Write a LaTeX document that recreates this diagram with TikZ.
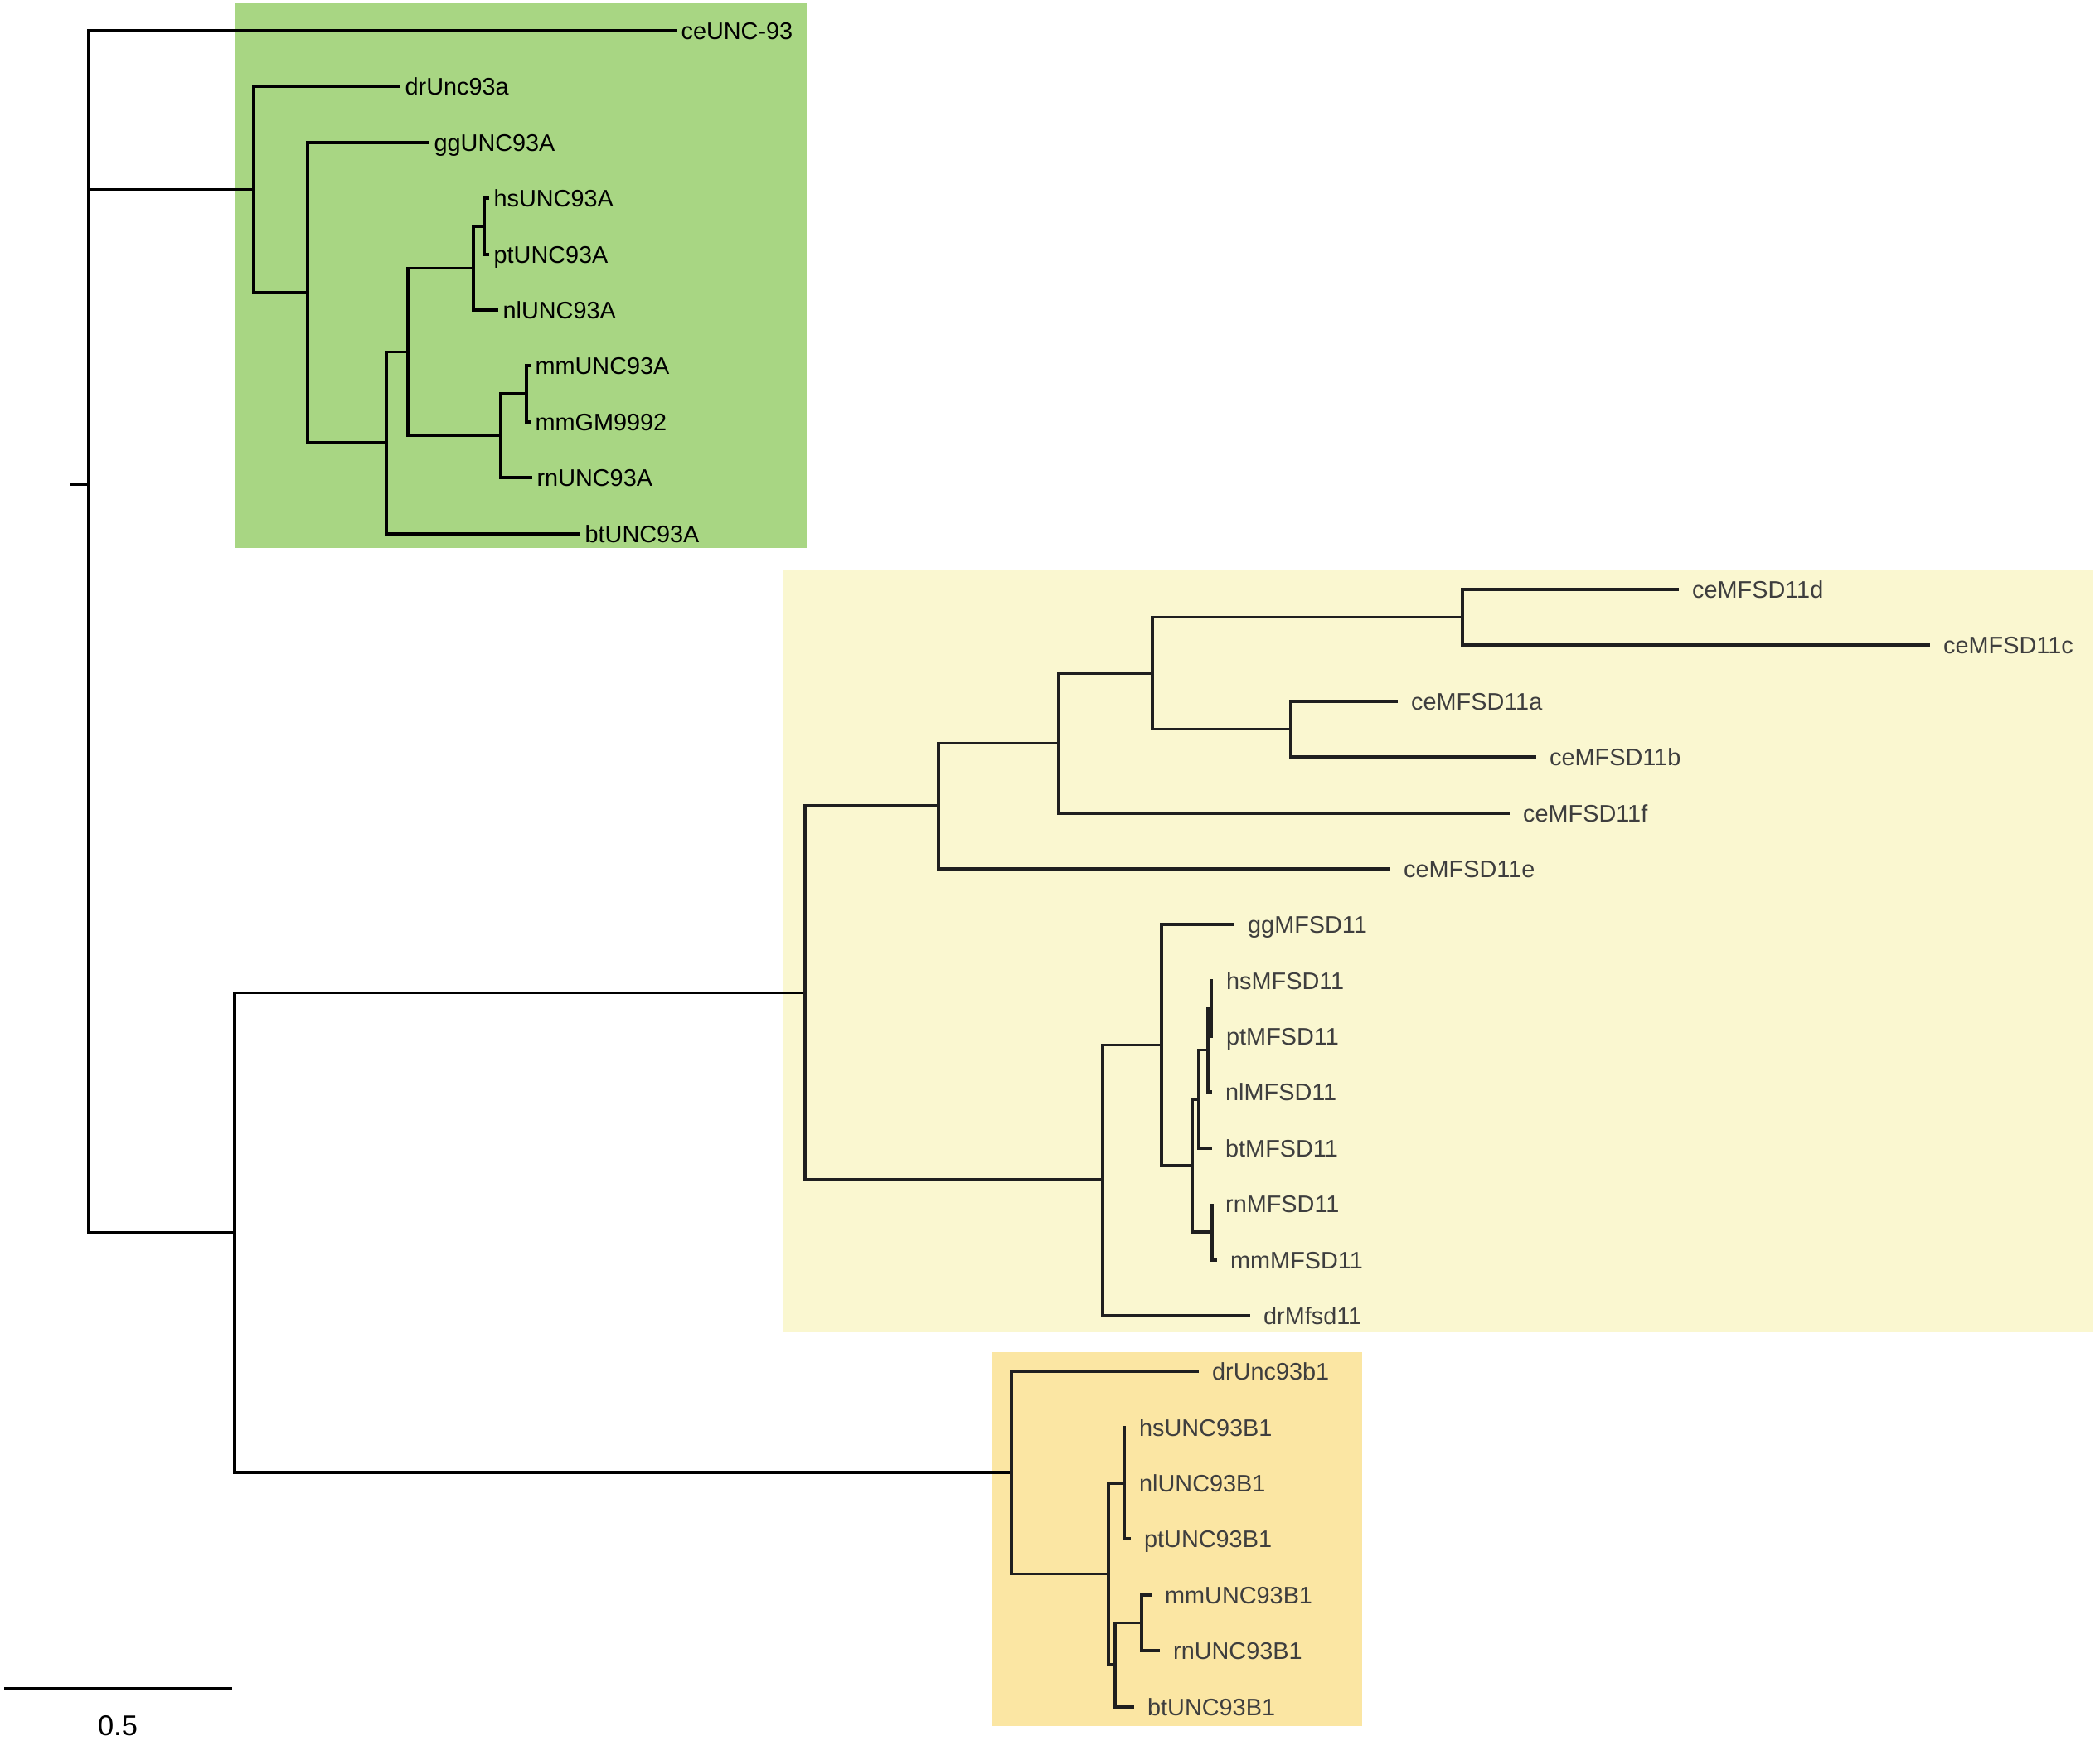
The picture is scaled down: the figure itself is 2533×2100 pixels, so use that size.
\documentclass[tikz,border=0pt]{standalone}
\usepackage{fontspec}
\setmainfont{Liberation Sans}
\definecolor{unagreen}{RGB}{168,214,131}
\definecolor{mfsdyellow}{RGB}{250,247,208}
\definecolor{unborange}{RGB}{251,230,163}
\definecolor{labelgray}{RGB}{62,62,62}

\begin{document}
\begin{tikzpicture}[x=0.01cm, y=-0.01cm,
    branch/.style={line width=1pt, black},
    branchb/.style={line width=1pt, black!88},
    leafa/.style={anchor=west, inner xsep=1.4pt, inner ysep=0pt, text height=5.9pt, text depth=0pt, font=\fontsize{8.2}{10}\selectfont},
    leafb/.style={leafa, inner xsep=4.4pt, text=labelgray}]
\useasboundingbox (0,0) rectangle (2533,2100);

% Clade boxes
\fill[unagreen] (284,4) rectangle (973,661);
\fill[mfsdyellow] (945,687) rectangle (2525,1607);
\fill[unborange] (1197,1631) rectangle (1643,2082);

% Inner nodes
\coordinate (stub) at (84,584);
\coordinate (root) at (107,584);
\coordinate (gA) at (306,228.5);
\coordinate (gB) at (371,353);
\coordinate (gC) at (466,534);
\coordinate (gD) at (492,424.5);
\coordinate (gE) at (571,323.5);
\coordinate (gG) at (584,273);
\coordinate (gF) at (604,525.5);
\coordinate (gH) at (635,475);
\coordinate (bN) at (283,1487);
\coordinate (yA) at (971,1197.5);
\coordinate (yB) at (1132,972);
\coordinate (yC) at (1277,896.5);
\coordinate (yD) at (1390,812);
\coordinate (yE) at (1764,744.5);
\coordinate (yF) at (1557,879.5);
\coordinate (mB) at (1330,1423);
\coordinate (mC) at (1401,1260.5);
\coordinate (mD) at (1438,1406);
\coordinate (mE) at (1446,1326);
\coordinate (mF) at (1457,1266.5);
\coordinate (mG) at (1461,1216.5);
\coordinate (mH) at (1462,1486);
\coordinate (oA) at (1220,1776);
\coordinate (oB) at (1337,1898.5);
\coordinate (oC) at (1356,1789);
\coordinate (oD) at (1345,2008);
\coordinate (oE) at (1377,1957.5);

% UNC93A leaves
\node[leafa] (ceUNC) at (816,37) {ceUNC-93};
\node[leafa] (drUNCa) at (483,104) {drUnc93a};
\node[leafa] (ggUNCA) at (518,172) {ggUNC93A};
\node[leafa] (hsUNCA) at (590,239) {hsUNC93A};
\node[leafa] (ptUNCA) at (590,307) {ptUNC93A};
\node[leafa] (nlUNCA) at (601,374) {nlUNC93A};
\node[leafa] (mmUNCA) at (640,441) {mmUNC93A};
\node[leafa] (mmGM) at (640,509) {mmGM9992};
\node[leafa] (rnUNCA) at (642,576) {rnUNC93A};
\node[leafa] (btUNCA) at (700,644) {btUNC93A};

% MFSD11 leaves
\node[leafb] (ceMd) at (2025,711) {ceMFSD11d};
\node[leafb] (ceMc) at (2328,778) {ceMFSD11c};
\node[leafb] (ceMa) at (1686,846) {ceMFSD11a};
\node[leafb] (ceMb) at (1853,913) {ceMFSD11b};
\node[leafb] (ceMf) at (1821,981) {ceMFSD11f};
\node[leafb] (ceMe) at (1677,1048) {ceMFSD11e};
\node[leafb] (ggM) at (1489,1115) {ggMFSD11};
\node[leafb] (hsM) at (1463,1183) {hsMFSD11};
\node[leafb] (ptM) at (1463,1250) {ptMFSD11};
\node[leafb] (nlM) at (1462,1317) {nlMFSD11};
\node[leafb] (btM) at (1462,1385) {btMFSD11};
\node[leafb] (rnM) at (1462,1452) {rnMFSD11};
\node[leafb] (mmM) at (1468,1520) {mmMFSD11};
\node[leafb] (drM) at (1508,1587) {drMfsd11};

% UNC93B1 leaves
\node[leafb] (drUNCb) at (1446,1654) {drUnc93b1};
\node[leafb] (hsB) at (1358,1722) {hsUNC93B1};
\node[leafb] (nlB) at (1358,1789) {nlUNC93B1};
\node[leafb] (ptB) at (1364,1856) {ptUNC93B1};
\node[leafb] (mmB) at (1389,1924) {mmUNC93B1};
\node[leafb] (rnB) at (1399,1991) {rnUNC93B1};
\node[leafb] (btB) at (1368,2059) {btUNC93B1};

% Branches, root and UNC93A
\draw[branch] (stub) -- (root);
\draw[branch] (root) |- (ceUNC.west);
\draw[branch] (root) |- (gA);
\draw[branch] (root) |- (bN);
\draw[branch] (gA) |- (drUNCa.west);
\draw[branch] (gA) |- (gB);
\draw[branch] (gB) |- (ggUNCA.west);
\draw[branch] (gB) |- (gC);
\draw[branch] (gC) |- (gD);
\draw[branch] (gC) |- (btUNCA.west);
\draw[branch] (gD) |- (gE);
\draw[branch] (gD) |- (gF);
\draw[branch] (gE) |- (gG);
\draw[branch] (gE) |- (nlUNCA.west);
\draw[branch] (gG) |- (hsUNCA.west);
\draw[branch] (gG) |- (ptUNCA.west);
\draw[branch] (gF) |- (gH);
\draw[branch] (gF) |- (rnUNCA.west);
\draw[branch] (gH) |- (mmUNCA.west);
\draw[branch] (gH) |- (mmGM.west);
\draw[branch] (bN) |- (yA);
\draw[branch] (bN) |- (oA);

% Branches, MFSD11
\draw[branchb] (yA) |- (yB);
\draw[branchb] (yA) |- (mB);
\draw[branchb] (yB) |- (yC);
\draw[branchb] (yB) |- (ceMe.west);
\draw[branchb] (yC) |- (yD);
\draw[branchb] (yC) |- (ceMf.west);
\draw[branchb] (yD) |- (yE);
\draw[branchb] (yD) |- (yF);
\draw[branchb] (yE) |- (ceMd.west);
\draw[branchb] (yE) |- (ceMc.west);
\draw[branchb] (yF) |- (ceMa.west);
\draw[branchb] (yF) |- (ceMb.west);
\draw[branchb] (mB) |- (mC);
\draw[branchb] (mB) |- (drM.west);
\draw[branchb] (mC) |- (ggM.west);
\draw[branchb] (mC) |- (mD);
\draw[branchb] (mD) |- (mE);
\draw[branchb] (mD) |- (mH);
\draw[branchb] (mE) |- (mF);
\draw[branchb] (mE) |- (btM.west);
\draw[branchb] (mF) |- (mG);
\draw[branchb] (mF) |- (nlM.west);
\draw[branchb] (mG) |- (hsM.west);
\draw[branchb] (mG) |- (ptM.west);
\draw[branchb] (mH) |- (rnM.west);
\draw[branchb] (mH) |- (mmM.west);

% Branches, UNC93B1
\draw[branchb] (oA) |- (drUNCb.west);
\draw[branchb] (oA) |- (oB);
\draw[branchb] (oB) |- (oC);
\draw[branchb] (oB) |- (oD);
\draw[branchb] (oC) |- (hsB.west);
\draw[branchb] (oC) |- (nlB.west);
\draw[branchb] (oC) |- (ptB.west);
\draw[branchb] (oD) |- (oE);
\draw[branchb] (oD) |- (btB.west);
\draw[branchb] (oE) |- (mmB.west);
\draw[branchb] (oE) |- (rnB.west);

% Scale bar
\coordinate (barL) at (5,2037);
\coordinate (barR) at (280,2037);
\draw[branch] (barL) -- (barR);
\node[font=\fontsize{9.8}{12}\selectfont, inner sep=0pt, text height=7pt, text depth=0pt] (barlabel) at (142,2081) {0.5};
\end{tikzpicture}
\end{document}
